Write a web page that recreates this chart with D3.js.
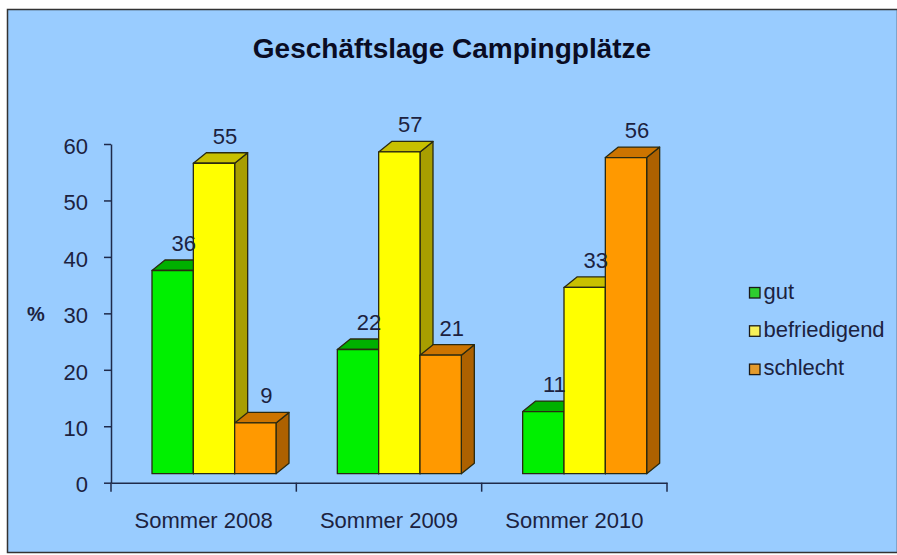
<!DOCTYPE html>
<html>
<head>
<meta charset="utf-8">
<script src="https://cdn.jsdelivr.net/npm/d3@7"></script>
<style>
  body { margin: 0; background: #fff; }
  svg { display: block; }
  text { font-family: "Liberation Sans", Arial, sans-serif; fill: #1c2240; }
</style>
</head>
<body>
<svg id="chart" width="897" height="555"></svg>
<script>
// chart values
var categories = ["Sommer 2008", "Sommer 2009", "Sommer 2010"];
var seriesNames = ["gut", "befriedigend", "schlecht"];
var gut = [36, 22, 11];
var befriedigend = [55, 57, 33];
var schlecht = [9, 21, 56];
var yTicks = [0, 10, 20, 30, 40, 50, 60];
var title = "Geschäftslage Campingplätze";
var yTitle = "%";

var values = [gut, befriedigend, schlecht];

// face colours: front, top, side
var faceColors = {
  gut: ["#00f000", "#00b000", "#009000"],
  befriedigend: ["#ffff00", "#c8c000", "#a89e00"],
  schlecht: ["#ff9900", "#cc7400", "#ad6100"]
};
var keyColors = {gut: "#2ecc2e", befriedigend: "#f6f05a", schlecht: "#e39a2c"};

var svg = d3.select("#chart");

// background and frame
svg.append("rect")
  .attr("x", 7.5).attr("y", 9.5)
  .attr("width", 890).attr("height", 543)
  .style("fill", "#99ccff")
  .style("stroke", "#333")
  .style("stroke-width", 1.5);

svg.append("text")
  .attr("x", 452).attr("y", 58)
  .attr("text-anchor", "middle")
  .style("font-size", "28px")
  .style("font-weight", "bold")
  .style("fill", "#0a0c24")
  .text(title);

// scales
var y = d3.scaleLinear().domain([0, 60]).range([482.7, 144]);
var x = d3.scaleBand().domain(categories).range([111, 667]);
var xs = d3.scaleBand().domain(seriesNames).range([0, 124]);
var groupOffset = 41;   // front faces start inside the band
var floorDy = 9;        // front faces stand above the axis line
var depthX = 13, depthY = -10.5;

// y axis
var yAxis = svg.append("g")
  .attr("transform", "translate(111,0)")
  .call(d3.axisLeft(y).tickValues(yTicks).tickSize(7).tickSizeOuter(0).tickPadding(16));
yAxis.selectAll("path, line").style("stroke", "#1f2a4a").style("stroke-width", 1.5);
yAxis.selectAll("text")
  .attr("dy", "0.42em")
  .style("font-size", "22px")
  .style("font-family", '"Liberation Sans", Arial, sans-serif')
  .style("fill", "#1c2240");

svg.append("text")
  .attr("x", 36).attr("y", 321)
  .attr("text-anchor", "middle")
  .style("font-size", "20px")
  .style("font-weight", "bold")
  .text(yTitle);

// x axis: labels at band centre, ticks at band edges
var xAxis = svg.append("g")
  .attr("transform", "translate(0," + y(0) + ")")
  .call(d3.axisBottom(x).tickSize(0).tickPadding(30));
xAxis.select(".domain").style("stroke", "#1f2a4a").style("stroke-width", 1.5);
xAxis.selectAll("text")
  .style("font-size", "22px")
  .style("font-family", '"Liberation Sans", Arial, sans-serif')
  .style("fill", "#1c2240");

var edges = categories.map(function(c){ return x(c); }).concat([x.range()[1]]);
xAxis.selectAll(".edge")
  .data(edges)
  .enter().append("line")
  .attr("class", "edge")
  .attr("x1", function(d){ return d; })
  .attr("x2", function(d){ return d; })
  .attr("y1", 0).attr("y2", 9)
  .style("stroke", "#1f2a4a")
  .style("stroke-width", 1.5);

// bar rows
var rows = [];
categories.forEach(function(c, i){
  seriesNames.forEach(function(s, j){
    rows.push({cat: c, series: s, value: values[j][i]});
  });
});

function geom(d){
  var x0 = x(d.cat) + groupOffset + xs(d.series);
  var x1 = x0 + xs.bandwidth();
  var yt = y(d.value) - floorDy;
  var yb = y(0) - floorDy;
  return {x0: x0, x1: x1, yt: yt, yb: yb};
}

var bars = svg.selectAll(".bar")
  .data(rows)
  .enter().append("g")
  .attr("class", "bar");

bars.append("polygon")
  .attr("points", function(d){
    var g = geom(d);
    return [[g.x1, g.yt], [g.x1 + depthX, g.yt + depthY], [g.x1 + depthX, g.yb + depthY], [g.x1, g.yb]].join(" ");
  })
  .style("fill", function(d){ return faceColors[d.series][2]; });

bars.append("polygon")
  .attr("points", function(d){
    var g = geom(d);
    return [[g.x0, g.yt], [g.x0 + depthX, g.yt + depthY], [g.x1 + depthX, g.yt + depthY], [g.x1, g.yt]].join(" ");
  })
  .style("fill", function(d){ return faceColors[d.series][1]; });

bars.append("rect")
  .attr("x", function(d){ return geom(d).x0; })
  .attr("y", function(d){ return geom(d).yt; })
  .attr("width", xs.bandwidth())
  .attr("height", function(d){ var g = geom(d); return g.yb - g.yt; })
  .style("fill", function(d){ return faceColors[d.series][0]; });

bars.selectAll("polygon, rect")
  .style("stroke", "#2a2a10")
  .style("stroke-width", 1.3)
  .style("stroke-linejoin", "round");

// value labels
svg.selectAll(".val")
  .data(rows)
  .enter().append("text")
  .attr("class", "val")
  .attr("x", function(d){ var g = geom(d); return (g.x0 + g.x1) / 2 + 11; })
  .attr("y", function(d){ return geom(d).yt + depthY - 9; })
  .attr("text-anchor", "middle")
  .style("font-size", "22px")
  .text(function(d){ return d.value; });

// legend
var legend = svg.selectAll(".key")
  .data(seriesNames)
  .enter().append("g")
  .attr("class", "key")
  .attr("transform", function(d, i){ return "translate(749.5," + (287.5 + i * 38.3) + ")"; });

legend.append("rect")
  .attr("width", 10.5).attr("height", 10.5)
  .style("fill", function(d){ return keyColors[d]; })
  .style("stroke", "#1a1a1a")
  .style("stroke-width", 1.3);

legend.append("text")
  .attr("x", 14).attr("y", 11)
  .style("font-size", "22px")
  .text(function(d){ return d; });
</script>
</body>
</html>
